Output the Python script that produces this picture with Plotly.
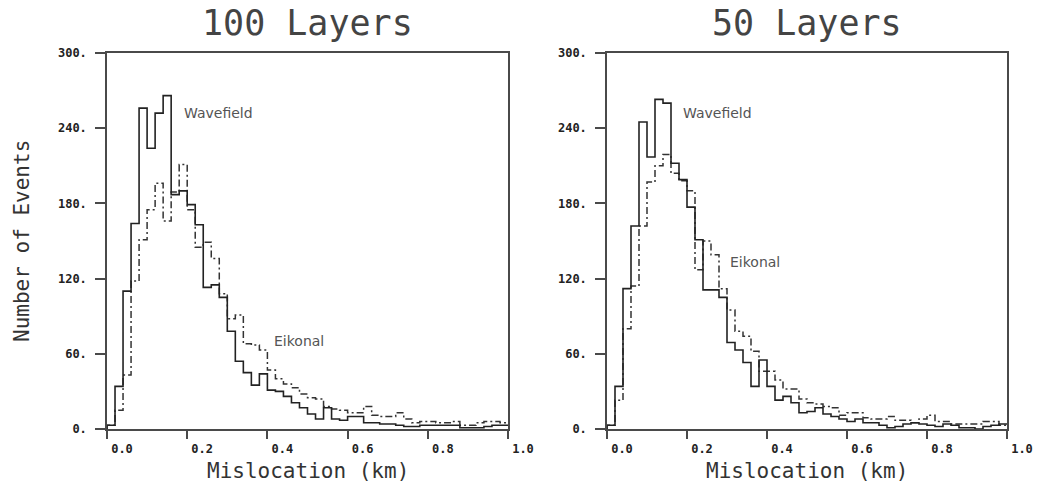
import numpy as np
import plotly.graph_objects as go

# ---- data (counts per 0.02 km bin, 0.0 - 1.0 km) ----
bin_edges = np.round(np.arange(51) * 0.02, 2)

wave_100 = [3, 34, 110, 164, 256, 224, 252, 266, 187, 190,
            179, 163, 113, 115, 105, 78, 54, 45, 35, 44,
            31, 30, 26, 21, 17, 12, 8, 17, 8, 7,
            10, 10, 5, 5, 4, 4, 3, 2, 2, 3,
            3, 3, 3, 3, 1, 1, 1, 2, 3, 3]
eik_100 = [3, 15, 43, 118, 151, 175, 196, 166, 189, 211,
           175, 145, 149, 136, 108, 88, 91, 68, 67, 63,
           47, 40, 36, 33, 28, 25, 24, 18, 16, 15,
           13, 13, 18, 11, 10, 10, 13, 8, 5, 6,
           6, 5, 5, 6, 3, 3, 5, 6, 6, 5]

wave_50 = [3, 34, 112, 162, 245, 217, 263, 260, 212, 199,
           177, 151, 111, 111, 105, 69, 63, 53, 34, 55,
           34, 23, 26, 21, 13, 14, 17, 12, 10, 8,
           6, 8, 5, 5, 3, 1, 2, 4, 5, 4,
           3, 2, 4, 3, 1, 1, 0, 2, 3, 4]
eik_50 = [3, 23, 80, 114, 162, 197, 210, 219, 204, 198,
          190, 127, 150, 139, 112, 95, 78, 74, 62, 46,
          46, 39, 32, 32, 24, 21, 20, 18, 17, 11,
          13, 13, 9, 8, 8, 10, 7, 7, 5, 8,
          11, 6, 6, 4, 4, 4, 4, 6, 6, 3]

panel_titles = ["100 Layers", "50 Layers"]
y_ticks = [0, 60, 120, 180, 240, 300]
y_tick_text = ["0.", "60.", "120.", "180.", "240.", "300."]
x_ticks = [0.0, 0.2, 0.4, 0.6, 0.8, 1.0]
x_tick_text = ["0.0", "0.2", "0.4", "0.6", "0.8", "1.0"]

W, H = 1039, 488
dom_x = [[107 / W, 508 / W], [607 / W, 1007 / W]]
dom_y = [(H - 429) / H, (H - 53) / H]

fig = go.Figure()

def step(vals):
    xs = [0.0] + list(bin_edges)
    ys = [0] + list(vals) + [vals[-1]]
    return xs, ys

panels = [(wave_100, eik_100), (wave_50, eik_50)]
for i, (wv, ek) in enumerate(panels):
    xa = "x" if i == 0 else "x2"
    ya = "y" if i == 0 else "y2"
    xs, ys = step(ek)
    fig.add_trace(go.Scatter(x=xs, y=ys, mode="lines", line_shape="hv",
                             line=dict(color="#333333", width=1.5, dash="7px,3px,2px,3px"),
                             xaxis=xa, yaxis=ya, showlegend=False, hoverinfo="skip"))
    xs, ys = step(wv)
    fig.add_trace(go.Scatter(x=xs, y=ys, mode="lines", line_shape="hv",
                             line=dict(color="#222222", width=1.6),
                             xaxis=xa, yaxis=ya, showlegend=False, hoverinfo="skip"))

tickfont = dict(family="DejaVu Sans Mono", size=12, color="#222222", weight="bold")
axis_common = dict(showline=True, linecolor="#4a4a4a", linewidth=1.5, mirror=True,
                   ticks="outside", tickcolor="#4a4a4a", tickwidth=1.5, automargin=False,
                   showgrid=False, zeroline=False, tickfont=tickfont)

for i in range(2):
    sfx = "" if i == 0 else "2"
    fig.update_layout(**{
        "xaxis" + sfx: dict(domain=dom_x[i], range=[0, 1], tickvals=x_ticks,
                            ticktext=x_tick_text, ticklen=8, ticklabelshift=15,
                            anchor="y" + sfx, **axis_common),
        "yaxis" + sfx: dict(domain=dom_y, range=[0, 300], tickvals=y_ticks,
                            ticktext=y_tick_text, ticklen=10, ticklabelstandoff=6,
                            anchor="x" + sfx, **axis_common),
    })

ann = []
centers = [(107 + 508) / 2 / W, (607 + 1007) / 2 / W]
for i in range(2):
    ann.append(dict(text=panel_titles[i], x=centers[i], y=(H - 23) / H, xref="paper", yref="paper",
                    showarrow=False, xanchor="center", yanchor="middle",
                    font=dict(family="DejaVu Sans Mono", size=35, color="#444444")))
    ann.append(dict(text="Mislocation (km)", x=centers[i], y=(H - 471) / H, xref="paper", yref="paper",
                    showarrow=False, xanchor="center", yanchor="middle",
                    font=dict(family="DejaVu Sans Mono", size=21, color="#333333")))
ann.append(dict(text="Number of Events", x=22 / W, y=(H - 241) / H, xref="paper", yref="paper",
                showarrow=False, xanchor="center", yanchor="middle", textangle=-90,
                font=dict(family="DejaVu Sans Mono", size=21, color="#333333")))

lab_font = dict(family="DejaVu Sans", size=14, color="#555555")
ann.append(dict(text="Wavefield", x=0.186, y=252, xref="x", yref="y", showarrow=False,
                xanchor="left", yanchor="middle", font=lab_font))
ann.append(dict(text="Eikonal", x=0.4125, y=70, xref="x", yref="y", showarrow=False,
                xanchor="left", yanchor="middle", font=lab_font))
ann.append(dict(text="Wavefield", x=0.186, y=252, xref="x2", yref="y2", showarrow=False,
                xanchor="left", yanchor="middle", font=lab_font))
ann.append(dict(text="Eikonal", x=0.3025, y=133, xref="x2", yref="y2", showarrow=False,
                xanchor="left", yanchor="middle", font=lab_font))

fig.update_layout(width=W, height=H, margin=dict(l=0, r=0, t=0, b=0, autoexpand=False),
                  paper_bgcolor="white", plot_bgcolor="white", annotations=ann)

fig.write_html("out.html")
